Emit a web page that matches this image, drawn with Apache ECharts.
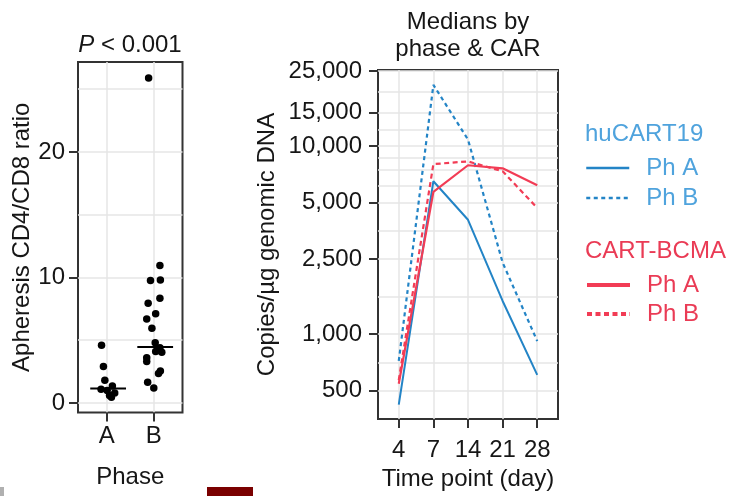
<!DOCTYPE html>
<html><head><meta charset="utf-8">
<script src="https://cdn.jsdelivr.net/npm/echarts@6/dist/echarts.min.js"></script>
<style>html,body{margin:0;padding:0;background:#fff}#c{width:730px;height:496px}</style>
</head><body><div id="c"></div>
<script>
// ---- Left panel: apheresis CD4/CD8 ratio by phase ----
const phases = ['A', 'B'];
const ratioA = [4.6, 2.9, 1.8, 1.35, 1.1, 1.0, 0.8, 0.6, 0.45];
const jitterA = [-0.11, -0.07, -0.04, 0.12, -0.12, 0.01, 0.17, 0.06, 0.1];
const ratioB = [25.9, 10.95, 9.75, 9.8, 8.35, 7.95, 7.1, 6.7, 5.95, 4.8, 4.4, 4.1, 4.05, 3.6, 3.3, 2.55, 2.35, 1.65, 1.2];
const jitterB = [-0.11, 0.13, -0.07, 0.14, 0.13, -0.12, 0.04, -0.15, -0.04, 0.03, 0.13, 0.04, 0.17, -0.15, -0.15, 0.14, 0.1, -0.13, 0];
const medians = [1.15, 4.45];
const ratioTicks = [0, 10, 20];
const ratioGrid = [0, 5, 10, 15, 20, 25];

// ---- Right panel: medians by phase & CAR ----
const days = ['4', '7', '14', '21', '28'];
const hu19A = [422, 6490, 4050, 1500, 607];
const hu19B = [720, 21100, 10800, 2400, 918];
const bcmaA = [545, 5700, 7890, 7600, 6180];
const bcmaB = [570, 8000, 8270, 7330, 4680];
const copyTicks = [500, 1000, 2500, 5000, 10000, 15000, 25000];
const copyGrid = [500, 707, 1000, 1581, 2500, 3536, 5000, 6124, 7500, 8660, 10000, 12247, 15000, 19365, 25000];

const FF = "'Liberation Sans', Arial, sans-serif";
const TXT = '#161616';
const BLUE = '#2384c6', RED = '#f23c55';
const BLUE_T = '#4fa3dd', RED_T = '#ea3b55';
const FRAME = '#333';
const GRIDC = '#e6e6e6';

const chart = echarts.init(document.getElementById('c'), null, {renderer: 'canvas'});

const jit = (vals, jits, c) => vals.map((v, i) => [c + jits[i], v]);
const medianSeg = (m, c) => [[c - 0.35, m], [c + 0.41, m]];
const idx = days.map((d, i) => i);

const option = {
  backgroundColor: '#fff',
  animation: false,
  textStyle: {fontFamily: FF},
  title: [
    {text: '{i|P} < 0.001', left: 130, top: 33, textAlign: 'center', padding: 0,
     textStyle: {fontSize: 24, fontWeight: 'normal', color: TXT, fontFamily: FF,
       rich: {i: {fontStyle: 'italic', fontSize: 24, color: TXT, fontFamily: FF}}}},
    {text: 'Medians by\nphase & CAR', left: 468, top: 9, textAlign: 'center', padding: 0,
     textStyle: {fontSize: 24, fontWeight: 'normal', lineHeight: 27, color: TXT, fontFamily: FF}},
    {text: 'huCART19', left: 585, top: 122, padding: 0,
     textStyle: {fontSize: 24, fontWeight: 'normal', color: BLUE_T, fontFamily: FF}},
    {text: 'CART-BCMA', left: 585, top: 239, padding: 0,
     textStyle: {fontSize: 24, fontWeight: 'normal', color: RED_T, fontFamily: FF}}
  ],
  legend: [
    {data: ['huCART19 Ph A', 'huCART19 Ph B'], orient: 'vertical', left: 585, top: 156,
     itemWidth: 43, itemHeight: 14, itemGap: 6, padding: 0, selectedMode: false,
     formatter: n => n.replace('huCART19 ', ''),
     itemStyle: {opacity: 0}, lineStyle: {width: 2.5},
     textStyle: {color: BLUE_T, fontSize: 24, fontFamily: FF, padding: [0, 0, 0, 12]}},
    {data: ['CART-BCMA Ph A', 'CART-BCMA Ph B'], orient: 'vertical', left: 585, top: 273,
     itemWidth: 43, itemHeight: 14, itemGap: 5, padding: 0, selectedMode: false,
     formatter: n => n.replace('CART-BCMA ', ''),
     itemStyle: {opacity: 0}, lineStyle: {width: 4},
     textStyle: {color: RED_T, fontSize: 24, fontFamily: FF, padding: [0, 0, 0, 12]}}
  ],
  grid: [
    {left: 78, top: 62, width: 104.5, height: 350.5, show: true, borderColor: FRAME, borderWidth: 2, backgroundColor: '#fff'},
    {left: 378, top: 70, width: 180, height: 351.5, show: true, borderColor: FRAME, borderWidth: 2, backgroundColor: '#fff'}
  ],
  xAxis: [
    {gridIndex: 0, type: 'value', min: 0.39, max: 2.61,
     name: 'Phase', nameLocation: 'middle', nameGap: 53,
     nameTextStyle: {fontSize: 24, color: TXT, fontFamily: FF},
     axisLine: {show: false, onZero: false},
     axisTick: {show: true, length: 9, lineStyle: {color: FRAME, width: 2}, customValues: [1, 2]},
     axisLabel: {show: true, margin: 12, fontSize: 24, color: TXT, fontFamily: FF, customValues: [1, 2],
       formatter: v => phases[Math.round(v) - 1]},
     splitLine: {show: true, lineStyle: {color: GRIDC, width: 1.5}}},
    {gridIndex: 1, type: 'value', min: -0.6, max: 4.6,
     name: 'Time point (day)', nameLocation: 'middle', nameGap: 48,
     nameTextStyle: {fontSize: 24, color: TXT, fontFamily: FF},
     axisLine: {show: false, onZero: false},
     axisTick: {show: true, length: 9, lineStyle: {color: FRAME, width: 2}, customValues: idx},
     axisLabel: {show: true, margin: 19, fontSize: 24, color: TXT, fontFamily: FF, customValues: idx,
       formatter: v => days[Math.round(v)]},
     splitLine: {show: true, lineStyle: {color: GRIDC, width: 1.5}}}
  ],
  yAxis: [
    {gridIndex: 0, type: 'value', min: -0.76, max: 27.17,
     name: 'Apheresis CD4/CD8 ratio', nameLocation: 'middle', nameGap: 43,
     nameTextStyle: {fontSize: 24, color: TXT, fontFamily: FF},
     axisLine: {show: false, onZero: false},
     axisTick: {show: true, length: 9, lineStyle: {color: FRAME, width: 2}, customValues: ratioTicks},
     axisLabel: {show: true, margin: 13, fontSize: 24, color: TXT, fontFamily: FF, customValues: ratioTicks},
     splitLine: {show: false}},
    {gridIndex: 0, type: 'value', min: -0.76, max: 27.17, position: 'left',
     axisLine: {show: false, onZero: false}, axisLabel: {show: false},
     axisTick: {show: false, customValues: ratioGrid},
     splitLine: {show: true, lineStyle: {color: GRIDC, width: 1.5}}},
    {gridIndex: 1, type: 'log', logBase: 10, min: 354, max: 25300,
     name: 'Copies/µg genomic DNA', nameLocation: 'middle', nameGap: 99,
     nameTextStyle: {fontSize: 24, color: TXT, fontFamily: FF},
     axisLine: {show: false, onZero: false},
     axisTick: {show: true, length: 9, lineStyle: {color: FRAME, width: 2}, customValues: copyTicks},
     axisLabel: {show: true, margin: 16, fontSize: 24, color: TXT, fontFamily: FF, customValues: copyTicks,
       formatter: v => Math.round(v).toLocaleString('en-US')},
     splitLine: {show: false}},
    {gridIndex: 1, type: 'log', logBase: 10, min: 354, max: 25300, position: 'left',
     axisLine: {show: false, onZero: false}, axisLabel: {show: false},
     axisTick: {show: false, customValues: copyGrid},
     splitLine: {show: true, lineStyle: {color: GRIDC, width: 1.5}}}
  ],
  series: [
    {type: 'scatter', name: 'Phase A', xAxisIndex: 0, yAxisIndex: 0, symbolSize: 7.5,
     itemStyle: {color: '#000', opacity: 1}, data: jit(ratioA, jitterA, 1), z: 3},
    {type: 'scatter', name: 'Phase B', xAxisIndex: 0, yAxisIndex: 0, symbolSize: 7.5,
     itemStyle: {color: '#000', opacity: 1}, data: jit(ratioB, jitterB, 2), z: 3},
    ...medians.map((m, i) => ({type: 'line', name: 'Median ' + phases[i], xAxisIndex: 0, yAxisIndex: 0,
      symbol: 'none', lineStyle: {color: '#000', width: 2}, data: medianSeg(m, i + 1), z: 4})),
    {type: 'line', name: 'huCART19 Ph A', xAxisIndex: 1, yAxisIndex: 2, symbol: 'none',
     color: BLUE, lineStyle: {color: BLUE, width: 2, type: 'solid'}, data: hu19A.map((v, i) => [i, v])},
    {type: 'line', name: 'huCART19 Ph B', xAxisIndex: 1, yAxisIndex: 2, symbol: 'none',
     color: BLUE, lineStyle: {color: BLUE, width: 2.2, type: [4, 3.5]}, data: hu19B.map((v, i) => [i, v])},
    {type: 'line', name: 'CART-BCMA Ph A', xAxisIndex: 1, yAxisIndex: 2, symbol: 'none',
     color: RED, lineStyle: {color: RED, width: 2.2, type: 'solid'}, data: bcmaA.map((v, i) => [i, v])},
    {type: 'line', name: 'CART-BCMA Ph B', xAxisIndex: 1, yAxisIndex: 2, symbol: 'none',
     color: RED, lineStyle: {color: RED, width: 2.2, type: [5, 3.5]}, data: bcmaB.map((v, i) => [i, v])}
  ],
  graphic: [
    {type: 'rect', left: 207, top: 487, shape: {width: 46, height: 9}, style: {fill: '#7a0000'}},
    {type: 'rect', left: 0, top: 487, shape: {width: 4, height: 9}, style: {fill: '#b0b0b0'}}
  ]
};
chart.setOption(option);
</script>
</body></html>
